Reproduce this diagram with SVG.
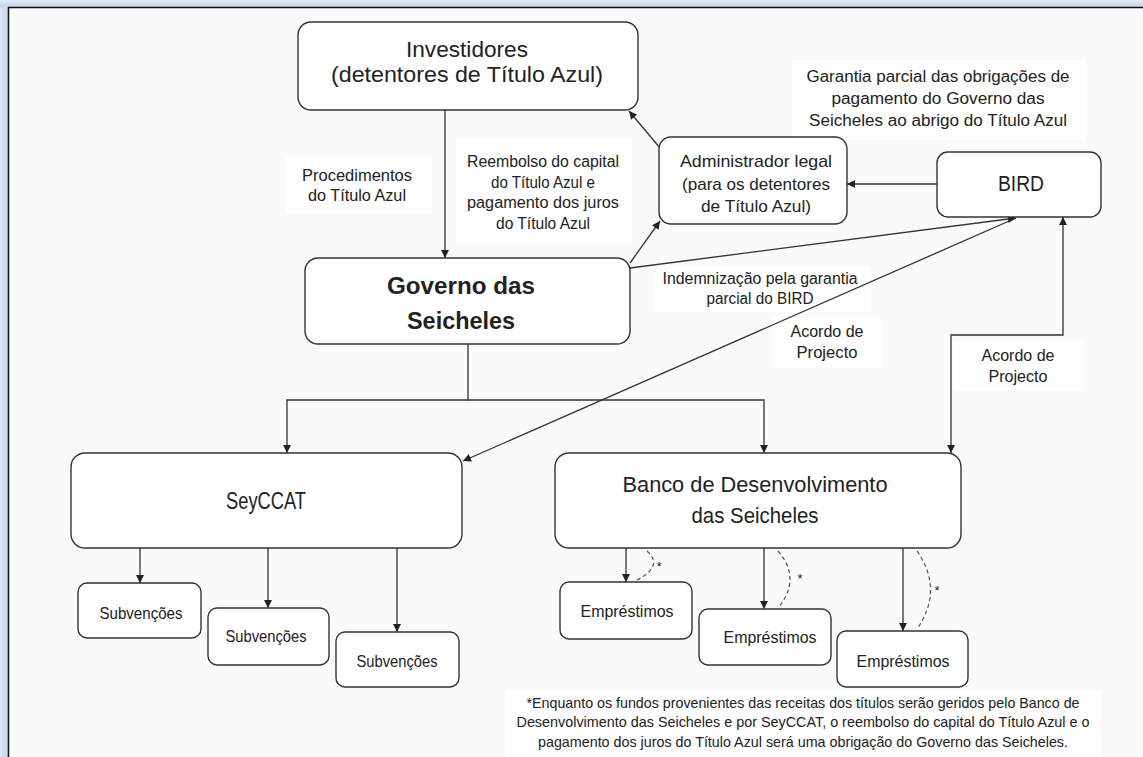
<svg xmlns="http://www.w3.org/2000/svg" width="1143" height="757" viewBox="0 0 1143 757">
<defs>
<linearGradient id="gl" x1="0" y1="0" x2="1" y2="0"><stop offset="0" stop-color="#dce7f4"/><stop offset="1" stop-color="#c3d4ea"/></linearGradient>
<linearGradient id="gt" x1="0" y1="0" x2="0" y2="1"><stop offset="0" stop-color="#e4edf7"/><stop offset="1" stop-color="#c3d4ea"/></linearGradient>
<marker id="ah" viewBox="0 0 10 10" refX="10" refY="5" markerWidth="9" markerHeight="8" markerUnits="userSpaceOnUse" orient="auto-start-reverse"><path d="M0,0 L10,5 L0,10 z" fill="#222"/></marker>
<style>
.box{fill:#fff;stroke:#333;stroke-width:1.4}
.c{fill:none;stroke:#333;stroke-width:1.3}
.d{fill:none;stroke:#555;stroke-width:1.2;stroke-dasharray:4 3}
.t{font-family:"Liberation Sans",Arial,sans-serif;fill:#222;text-anchor:middle}
.lb{fill:#fefefe}
</style>
</defs>
<rect x="0" y="0" width="1143" height="757" fill="#fafafa"/>
<g id="frame">
<rect x="0" y="0" width="8" height="757" fill="url(#gl)"/>
<rect x="0" y="0" width="1143" height="7" fill="url(#gt)"/>
<line x1="8.5" y1="7" x2="8.5" y2="757" stroke="#111" stroke-width="1.5"/>
<line x1="8" y1="7.5" x2="1143" y2="7.5" stroke="#111" stroke-width="1.5"/>
</g>
<g id="label-bgs">
<rect class="lb" x="286" y="157" width="146" height="56"/>
<rect class="lb" x="456" y="138" width="176" height="104"/>
<rect class="lb" x="792" y="60" width="294" height="80"/>
<rect class="lb" x="655" y="266" width="215" height="46"/>
<rect class="lb" x="772" y="318" width="110" height="50"/>
<rect class="lb" x="953" y="341" width="130" height="50"/>
<rect class="lb" x="505" y="690" width="596" height="67"/>
</g>
<g id="connectors">
<line class="c" x1="445" y1="110" x2="445" y2="258" marker-end="url(#ah)"/>
<line class="c" x1="660" y1="148" x2="629" y2="111" marker-end="url(#ah)"/>
<line class="c" x1="630" y1="263" x2="660" y2="221" marker-end="url(#ah)"/>
<line class="c" x1="937" y1="184" x2="847" y2="184" marker-end="url(#ah)"/>
<line class="c" x1="630" y1="268" x2="1016" y2="218" marker-end="url(#ah)"/>
<line class="c" x1="1016" y1="218" x2="463" y2="461" marker-end="url(#ah)"/>
<path class="c" d="M468,344 V400 H287 V453" marker-end="url(#ah)"/>
<path class="c" d="M468,400 H764 V453" marker-end="url(#ah)"/>
<path class="c" d="M1063,217 V335 H951 V453" marker-start="url(#ah)" marker-end="url(#ah)"/>
<line class="c" x1="140" y1="548" x2="140" y2="583" marker-end="url(#ah)"/>
<line class="c" x1="268" y1="548" x2="268" y2="608" marker-end="url(#ah)"/>
<line class="c" x1="397" y1="548" x2="397" y2="632" marker-end="url(#ah)"/>
<line class="c" x1="626" y1="548" x2="626" y2="582" marker-end="url(#ah)"/>
<line class="c" x1="764" y1="548" x2="764" y2="609" marker-end="url(#ah)"/>
<line class="c" x1="903" y1="548" x2="903" y2="631" marker-end="url(#ah)"/>
<path class="d" d="M647,551 Q664,566 637,580"/>
<path class="d" d="M778,551 Q802,579 778,608"/>
<path class="d" d="M917,551 Q944,590 917,629"/>
<text class="t" x="659" y="571" font-size="13">*</text>
<text class="t" x="800" y="583" font-size="13">*</text>
<text class="t" x="937" y="595" font-size="13">*</text>
</g>
<g id="labels">
<text class="t" font-size="16"><tspan x="357" y="181" textLength="110" lengthAdjust="spacingAndGlyphs">Procedimentos</tspan><tspan x="357" y="201" textLength="98" lengthAdjust="spacingAndGlyphs">do Título Azul</tspan></text>
<text class="t" font-size="16"><tspan x="543" y="167" textLength="152" lengthAdjust="spacingAndGlyphs">Reembolso do capital</tspan><tspan x="543" y="188" textLength="104" lengthAdjust="spacingAndGlyphs">do Título Azul e</tspan><tspan x="543" y="208" textLength="152" lengthAdjust="spacingAndGlyphs">pagamento dos juros</tspan><tspan x="543" y="229" textLength="94" lengthAdjust="spacingAndGlyphs">do Título Azul</tspan></text>
<text class="t" font-size="16"><tspan x="938" y="82" textLength="263" lengthAdjust="spacingAndGlyphs">Garantia parcial das obrigações de</tspan><tspan x="938" y="104" textLength="213" lengthAdjust="spacingAndGlyphs">pagamento do Governo das</tspan><tspan x="938" y="126" textLength="258" lengthAdjust="spacingAndGlyphs">Seicheles ao abrigo do Título Azul</tspan></text>
<text class="t" font-size="16"><tspan x="760" y="284" textLength="195" lengthAdjust="spacingAndGlyphs">Indemnização pela garantia</tspan><tspan x="760" y="304" textLength="107" lengthAdjust="spacingAndGlyphs">parcial do BIRD</tspan></text>
<text class="t" font-size="16"><tspan x="827" y="337" textLength="73" lengthAdjust="spacingAndGlyphs">Acordo de</tspan><tspan x="827" y="358" textLength="61" lengthAdjust="spacingAndGlyphs">Projecto</tspan></text>
<text class="t" font-size="16"><tspan x="1018" y="361" textLength="73" lengthAdjust="spacingAndGlyphs">Acordo de</tspan><tspan x="1018" y="382" textLength="59" lengthAdjust="spacingAndGlyphs">Projecto</tspan></text>
<text class="t" font-size="15"><tspan x="803" y="708" textLength="553" lengthAdjust="spacingAndGlyphs">*Enquanto os fundos provenientes das receitas dos títulos serão geridos pelo Banco de</tspan><tspan x="803" y="727" textLength="573" lengthAdjust="spacingAndGlyphs">Desenvolvimento das Seicheles e por SeyCCAT, o reembolso do capital do Título Azul e o</tspan><tspan x="803" y="747" textLength="530" lengthAdjust="spacingAndGlyphs">pagamento dos juros do Título Azul será uma obrigação do Governo das Seicheles.</tspan></text>
</g>
<g id="investidores">
<rect class="box" x="298" y="22" width="340" height="88" rx="13"/>
<text class="t" font-size="22"><tspan x="467" y="57" textLength="122" lengthAdjust="spacingAndGlyphs">Investidores</tspan><tspan x="467" y="82" textLength="272" lengthAdjust="spacingAndGlyphs">(detentores  de Título Azul)</tspan></text>
</g>
<g id="governo">
<rect class="box" x="305" y="258" width="325" height="86" rx="13"/>
<text class="t" font-size="24" font-weight="bold"><tspan x="461" y="294" textLength="148" lengthAdjust="spacingAndGlyphs">Governo das</tspan><tspan x="461" y="329" textLength="108" lengthAdjust="spacingAndGlyphs">Seicheles</tspan></text>
</g>
<g id="administrador">
<rect class="box" x="659" y="137" width="188" height="87" rx="12"/>
<text class="t" font-size="17"><tspan x="756" y="167" textLength="152" lengthAdjust="spacingAndGlyphs">Administrador legal</tspan><tspan x="756" y="190" textLength="148" lengthAdjust="spacingAndGlyphs">(para os detentores</tspan><tspan x="756" y="212" textLength="110" lengthAdjust="spacingAndGlyphs">de Título Azul)</tspan></text>
</g>
<g id="bird">
<rect class="box" x="937" y="152" width="164" height="65" rx="11"/>
<text class="t" x="1021" y="191" font-size="22" textLength="46" lengthAdjust="spacingAndGlyphs">BIRD</text>
</g>
<g id="seyccat">
<rect class="box" x="71" y="453" width="391" height="95" rx="14"/>
<text class="t" x="266" y="509" font-size="24" textLength="80" lengthAdjust="spacingAndGlyphs">SeyCCAT</text>
</g>
<g id="banco">
<rect class="box" x="555" y="453" width="406" height="95" rx="14"/>
<text class="t" font-size="22"><tspan x="755" y="492" textLength="265" lengthAdjust="spacingAndGlyphs">Banco de Desenvolvimento</tspan><tspan x="755" y="523" textLength="127" lengthAdjust="spacingAndGlyphs">das Seicheles</tspan></text>
</g>
<g id="subvencoes1">
<rect class="box" x="78" y="583" width="123" height="55" rx="9"/>
<text class="t" x="141" y="619" font-size="16" textLength="83" lengthAdjust="spacingAndGlyphs">Subvenções</text>
</g>
<g id="subvencoes2">
<rect class="box" x="208" y="608" width="121" height="57" rx="9"/>
<text class="t" x="266" y="642" font-size="16" textLength="81" lengthAdjust="spacingAndGlyphs">Subvenções</text>
</g>
<g id="subvencoes3">
<rect class="box" x="336" y="632" width="123" height="55" rx="9"/>
<text class="t" x="397" y="667" font-size="16" textLength="81" lengthAdjust="spacingAndGlyphs">Subvenções</text>
</g>
<g id="emprestimos1">
<rect class="box" x="560" y="582" width="132" height="57" rx="9"/>
<text class="t" x="627" y="617" font-size="16" textLength="93" lengthAdjust="spacingAndGlyphs">Empréstimos</text>
</g>
<g id="emprestimos2">
<rect class="box" x="699" y="609" width="132" height="56" rx="9"/>
<text class="t" x="770" y="643" font-size="16" textLength="93" lengthAdjust="spacingAndGlyphs">Empréstimos</text>
</g>
<g id="emprestimos3">
<rect class="box" x="837" y="631" width="131" height="56" rx="9"/>
<text class="t" x="903" y="667" font-size="16" textLength="93" lengthAdjust="spacingAndGlyphs">Empréstimos</text>
</g>
</svg>
